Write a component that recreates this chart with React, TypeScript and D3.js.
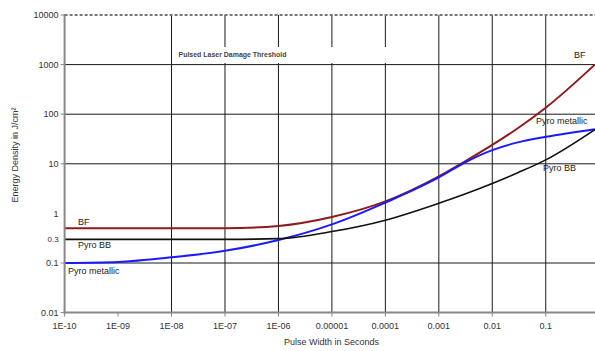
import React from "react";
import * as d3 from "d3";

const pulseWidths = [1e-10, 1e-9, 1e-8, 1e-7, 1e-6, 1e-5, 1e-4, 1e-3, 3e-3, 1e-2, 3e-2, 1e-1, 0.83];
const bfValues = [0.5, 0.5, 0.5, 0.5, 0.56, 0.85, 1.75, 5.6, 11, 24, 52, 135, 1000];
const pyroMetallicValues = [0.1, 0.105, 0.13, 0.176, 0.29, 0.6, 1.65, 5.3, 10.5, 18.9, 27, 35, 50];
const pyroBBValues = [0.3, 0.3, 0.3, 0.3, 0.31, 0.43, 0.73, 1.6, 2.43, 4.0, 6.6, 12, 49];

const xTickValues = [1e-10, 1e-9, 1e-8, 1e-7, 1e-6, 1e-5, 1e-4, 1e-3, 1e-2, 1e-1];
const xTickLabels = ["1E-10", "1E-09", "1E-08", "1E-07", "1E-06", "0.00001", "0.0001", "0.001", "0.01", "0.1"];
const xGridValues = [1e-8, 1e-7, 1e-6, 1e-5, 1e-4, 1e-3, 1e-2, 1e-1];
const yTickValues = [10000, 1000, 100, 10, 1, 0.3, 0.1, 0.01];
const yTickLabels = ["10000", "1000", "100", "10", "1", "0.3", "0.1", "0.01"];
const yGridValues = [1000, 100, 10, 0.1];
const yTickMarks = [10000, 1000, 100, 10, 0.1, 0.01];

const series = [
  { name: "BF", values: bfValues, color: "#8e1b1b", width: 2 },
  { name: "Pyro metallic", values: pyroMetallicValues, color: "#1a1aff", width: 2 },
  { name: "Pyro BB", values: pyroBBValues, color: "#111111", width: 1.6 },
];

const labels = [
  { text: "BF", x: 78, y: 225 },
  { text: "Pyro BB", x: 78, y: 248 },
  { text: "Pyro metallic", x: 68, y: 274 },
  { text: "BF", x: 574, y: 57.5 },
  { text: "Pyro metallic", x: 536, y: 123.5 },
  { text: "Pyro BB", x: 543, y: 171 },
];

export default function App() {
  const W = 595, H = 351;
  const x = d3.scaleLog().domain([1e-10, 1]).range([64.6, 599.2]);
  const y = d3.scaleLog().domain([0.01, 10000]).range([312.6, 15]);
  const left = x(1e-10), bottom = y(0.01), top = y(10000);
  const font = "'Liberation Sans', Arial, sans-serif";
  const line = (vals: number[]) =>
    d3.line<number>()
      .x((_, i) => x(pulseWidths[i]))
      .y((v) => y(v))
      .curve(d3.curveMonotoneX)(vals) || "";

  return (
    <svg width={W} height={H} style={{ position: "absolute", left: 0, top: 0, background: "#fff" }} fontFamily={font}>
      <rect width={W} height={H} fill="#fff" />
      {yGridValues.map((v) => (
        <line key={"yg" + v} x1={left} x2={W} y1={y(v)} y2={y(v)} stroke="#1a1a1a" strokeWidth={1} />
      ))}
      {xGridValues.map((v) => (
        <line key={"xg" + v} x1={x(v)} x2={x(v)} y1={top} y2={bottom} stroke="#1a1a1a" strokeWidth={1} />
      ))}
      <rect x={173.5} y={47} width={215} height={16} fill="#fff" />
      <text x={178.5} y={57} fontSize={7.2} fontWeight="bold" fill="#444" textLength={108} lengthAdjust="spacingAndGlyphs">
        Pulsed Laser Damage Threshold
      </text>
      <line x1={left} x2={W} y1={top} y2={top} stroke="#777" strokeWidth={2} strokeDasharray="3,2" />
      {series.map((s) => (
        <path key={s.name} d={line(s.values)} fill="none" stroke={s.color} strokeWidth={s.width} />
      ))}
      <line x1={left} x2={left} y1={top - 1} y2={bottom + 1} stroke="#888" strokeWidth={2} />
      <line x1={left - 1} x2={W} y1={bottom} y2={bottom} stroke="#888" strokeWidth={2} />
      {yTickMarks.map((v) => (
        <line key={"yt" + v} x1={left - 4} x2={left} y1={y(v)} y2={y(v)} stroke="#888" strokeWidth={1} />
      ))}
      {xTickValues.map((v) => (
        <line key={"xt" + v} x1={x(v)} x2={x(v)} y1={bottom} y2={bottom + 4} stroke="#888" strokeWidth={1} />
      ))}
      {yTickValues.map((v, i) => (
        <text key={"yl" + v} x={left - 6} y={y(v)} dy="0.35em" textAnchor="end" fontSize={v === 0.3 ? 8 : 9} fill="#333">
          {yTickLabels[i]}
        </text>
      ))}
      {xTickValues.map((v, i) => (
        <text key={"xl" + v} x={x(v)} y={328.5} textAnchor="middle" fontSize={9} fill="#333">
          {xTickLabels[i]}
        </text>
      ))}
      <text x={331.5} y={345} textAnchor="middle" fontSize={9} fill="#333">Pulse Width in Seconds</text>
      <text transform="translate(18,155) rotate(-90)" textAnchor="middle" fontSize={9} fill="#333">
        Energy Density in J/cm²
      </text>
      {labels.map((l, i) => (
        <text key={"lb" + i} x={l.x} y={l.y} fontSize={9} fill="#222">{l.text}</text>
      ))}
    </svg>
  );
}
